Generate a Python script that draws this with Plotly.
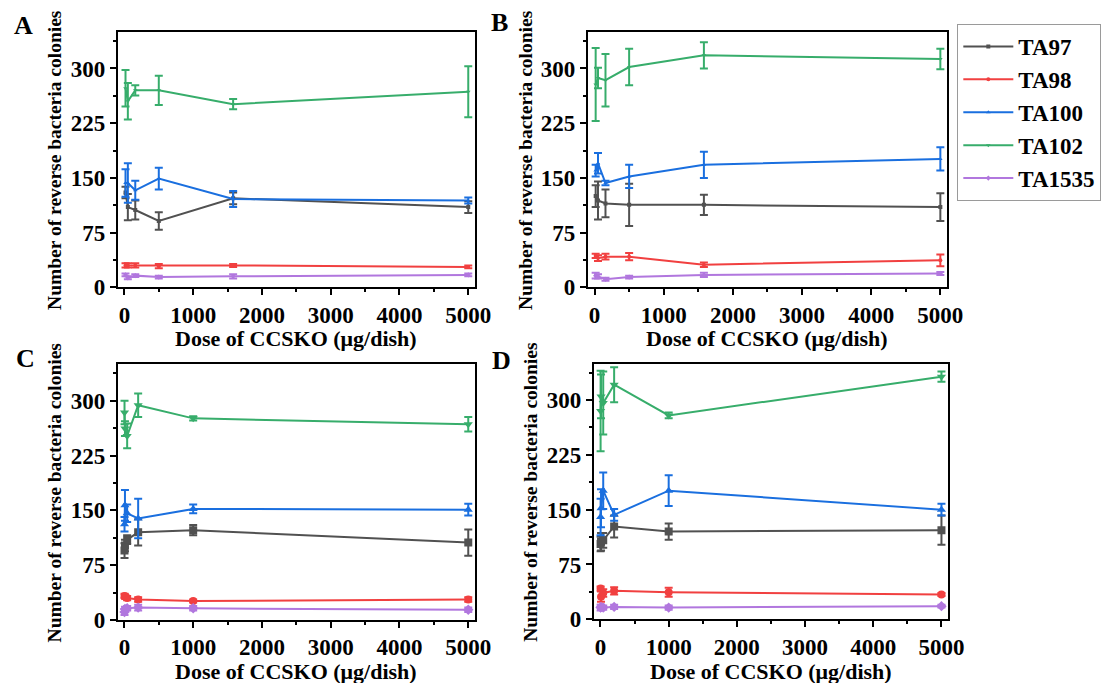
import plotly.graph_objects as go

# ---------------- data ----------------
strains = ["TA97", "TA98", "TA100", "TA102", "TA1535"]
colors = ["#515151", "#F14040", "#1A6FDF", "#37AD6B", "#B177DE"]
symbols = ["square", "circle", "triangle-up", "triangle-down", "diamond"]

doses_AB = [16, 50, 158, 500, 1581, 5000]
doses_CD = [1.6, 8, 40, 200, 1000, 5000]

# Panel A
A_TA97 = [130, 110, 106, 91, 122, 110]
A_TA97_err = [8, 18, 13, 12, 8, 8]
A_TA98 = [30, 30, 30, 29, 30, 28]
A_TA98_err = [3, 3, 3, 3, 2, 2]
A_TA100 = [143, 143, 133, 149, 121, 119]
A_TA100_err = [19, 27, 13, 15, 11, 4]
A_TA102 = [273, 255, 270, 270, 251, 268]
A_TA102_err = [25, 25, 7, 20, 7, 35]
A_TA1535 = [17, 13, 16, 14, 15, 17]
A_TA1535_err = [2, 2, 2, 2, 3, 2]

# Panel B
B_TA97 = [125, 119, 115, 113, 113, 110]
B_TA97_err = [15, 26, 19, 29, 14, 19]
B_TA98 = [43, 40, 42, 42, 31, 37]
B_TA98_err = [3, 4, 4, 5, 3, 8]
B_TA100 = [160, 170, 143, 152, 168, 176]
B_TA100_err = [8, 14, 3, 16, 18, 16]
B_TA102 = [278, 287, 284, 302, 318, 313]
B_TA102_err = [50, 14, 36, 25, 18, 14]
B_TA1535 = [16, 15, 11, 14, 17, 19]
B_TA1535_err = [4, 3, 2, 2, 3, 2]

# Panel C
C_TA97 = [95, 102, 110, 120, 123, 106]
C_TA97_err = [10, 8, 6, 18, 7, 18]
C_TA98 = [33, 32, 30, 28, 26, 28]
C_TA98_err = [3, 3, 3, 3, 2, 3]
C_TA100 = [131, 157, 146, 139, 152, 151]
C_TA100_err = [10, 21, 12, 27, 6, 8]
C_TA102 = [284, 262, 252, 294, 276, 268]
C_TA102_err = [16, 10, 17, 16, 3, 10]
C_TA1535 = [11, 15, 16, 17, 16, 14]
C_TA1535_err = [4, 3, 3, 4, 3, 3]

# Panel D
D_TA97 = [103, 106, 108, 127, 120, 122]
D_TA97_err = [10, 12, 10, 15, 11, 20]
D_TA98 = [42, 31, 36, 39, 37, 34]
D_TA98_err = [3, 7, 5, 5, 6, 2]
D_TA100 = [140, 152, 176, 143, 176, 150]
D_TA100_err = [25, 26, 25, 8, 21, 8]
D_TA102 = [285, 305, 296, 321, 279, 332]
D_TA102_err = [55, 30, 43, 24, 4, 7]
D_TA1535 = [16, 17, 16, 17, 16, 18]
D_TA1535_err = [4, 3, 3, 3, 3, 2]

x_title = "Dose of CCSKO (μg/dish)"
y_title = "Number of reverse bacteria colonies"

# ---------------- layout geometry (reference pixel grid 1105x683) ----------------
GW, GH = 1105, 683          # grid in which positions were measured
W, H = 1126, 696            # figure size
SERIF = "Liberation Serif"


def px_x(p):
    return p / GW


def px_y(p):
    return 1 - p / GH


panels = [
    dict(label="A", doses=doses_AB,
         series=[(A_TA97, A_TA97_err), (A_TA98, A_TA98_err), (A_TA100, A_TA100_err),
                 (A_TA102, A_TA102_err), (A_TA1535, A_TA1535_err)],
         box=(117, 32, 473, 287.3), msize=4, lab=(23, 25), ytx=54, xty=338),
    dict(label="B", doses=doses_AB,
         series=[(B_TA97, B_TA97_err), (B_TA98, B_TA98_err), (B_TA100, B_TA100_err),
                 (B_TA102, B_TA102_err), (B_TA1535, B_TA1535_err)],
         box=(585, 32, 943, 287.3), msize=4, lab=(497, 23), ytx=523, xty=338),
    dict(label="C", doses=doses_CD,
         series=[(C_TA97, C_TA97_err), (C_TA98, C_TA98_err), (C_TA100, C_TA100_err),
                 (C_TA102, C_TA102_err), (C_TA1535, C_TA1535_err)],
         box=(117, 364.3, 473, 620), msize=8, lab=(25, 358), ytx=54, xty=671),
    dict(label="D", doses=doses_CD,
         series=[(D_TA97, D_TA97_err), (D_TA98, D_TA98_err), (D_TA100, D_TA100_err),
                 (D_TA102, D_TA102_err), (D_TA1535, D_TA1535_err)],
         box=(591, 363.5, 944, 619.3), msize=8, lab=(499, 360), ytx=528, xty=671),
]

fig = go.Figure()
annotations = []
tickfont = dict(family=SERIF, size=23, color="black", weight="bold")

for i, p in enumerate(panels, start=1):
    xa = "x" if i == 1 else f"x{i}"
    ya = "y" if i == 1 else f"y{i}"
    for k, (vals, errs) in enumerate(p["series"]):
        fig.add_trace(go.Scatter(
            x=p["doses"], y=vals, xaxis=xa, yaxis=ya,
            mode="lines+markers", name=strains[k],
            showlegend=(i == 1), legendrank=k,
            line=dict(color=colors[k], width=2),
            marker=dict(symbol=symbols[k], size=p["msize"], color=colors[k]),
            error_y=dict(type="data", array=errs, visible=True,
                         color=colors[k], thickness=2, width=4),
        ))
    x0, y0, x1, y1 = p["box"]
    axis_common = dict(showline=True, linecolor="black", linewidth=1.5, mirror=True,
                       showgrid=False, zeroline=False, ticks="outside",
                       tickwidth=1.5, tickcolor="black", tickfont=tickfont)
    fig.layout[("xaxis" if i == 1 else f"xaxis{i}")] = dict(
        domain=[px_x(x0), px_x(x1)], range=[-100, 5100], anchor=ya,
        tick0=0, dtick=1000, ticklen=6,
        minor=dict(ticks="outside", ticklen=3, tickwidth=1.5, tickcolor="black", dtick=500, tick0=0),
        **axis_common)
    fig.layout[("yaxis" if i == 1 else f"yaxis{i}")] = dict(
        domain=[px_y(y1), px_y(y0)], range=[0, 350], anchor=xa,
        tick0=0, dtick=75, ticklen=6,
        minor=dict(ticks="outside", ticklen=3, tickwidth=1.5, tickcolor="black", dtick=37.5, tick0=0),
        **axis_common)
    annotations.append(dict(x=px_x(p["ytx"]), y=px_y((y0 + y1) / 2), xref="paper", yref="paper",
                            text=y_title, textangle=-90, showarrow=False,
                            xanchor="center", yanchor="middle",
                            font=dict(family=SERIF, size=19.5, color="black", weight="bold")))
    annotations.append(dict(x=px_x((x0 + x1) / 2), y=px_y(p["xty"]), xref="paper", yref="paper",
                            text=x_title, showarrow=False, xanchor="center", yanchor="middle",
                            font=dict(family=SERIF, size=22, color="black", weight="bold")))
    annotations.append(dict(x=px_x(p["lab"][0]), y=px_y(p["lab"][1]), xref="paper", yref="paper",
                            text=p["label"], showarrow=False, xanchor="center", yanchor="middle",
                            font=dict(family=SERIF, size=26, color="black", weight="bold")))

fig.update_layout(
    width=W, height=H,
    margin=dict(l=0, r=0, t=0, b=0),
    paper_bgcolor="white", plot_bgcolor="white",
    annotations=annotations,
    showlegend=True,
    legend=dict(x=px_x(953), y=px_y(24), xanchor="left", yanchor="top",
                bordercolor="#9a9a9a", borderwidth=1, bgcolor="white",
                font=dict(family=SERIF, size=23, color="black", weight="bold"),
                itemwidth=50, tracegroupgap=0),
)

page_fix = ("document.documentElement.style.margin='0';"
            "document.body.style.margin='0';")

fig.write_html("out.html", post_script=page_fix, config={"displayModeBar": False})
